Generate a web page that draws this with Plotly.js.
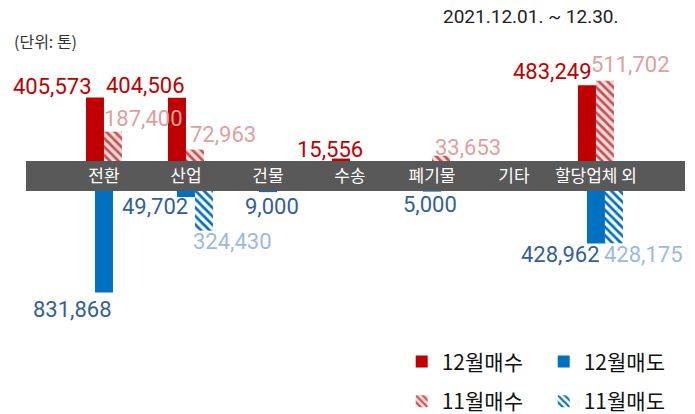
<!DOCTYPE html>
<html>
<head>
<meta charset="utf-8">
<script src="https://cdn.plot.ly/plotly-3.0.1.min.js"></script>
<style>html,body{margin:0;padding:0;background:#fff;}#chart{width:695px;height:414px;}</style>
</head>
<body>
<div id="chart"></div>
<script>
// ---- data ----
const categories = ['전환', '산업', '건물', '수송', '폐기물', '기타', '할당업체 외'];
const buyDec  = [405573, 404506, null, 15556, null, null, 483249];   // 12월매수
const buyNov  = [187400, 72963, null, null, 33653, null, 511702];    // 11월매수
const sellDec = [831868, 49702, 9000, null, 5000, null, 428962];     // 12월매도
const sellNov = [null, 324430, null, null, null, null, 428175];      // 11월매도
const seriesNames = ['12월매수', '12월매도', '11월매수', '11월매도'];
const dateText = '2021.12.01. ~ 12.30.';
const unitText = '(단위: 톤)';

// ---- label offsets (px) relative to bar end ----
const buyDecShift  = [[-51, 11], [-40, 12], null, [-20, 9], null, null, [-43, 14]];
const buyNovShift  = [[40, 13], [37, 15], null, null, [36, 8], null, [35, 16]];
const sellDecShift = [[-31, -17], [-31, -9], [4, -14], null, [-2, -13], null, [-35, -11]];
const sellNovShift = [null, [47, -11], null, null, null, null, [48, -11]];

const xi = categories.map((c, i) => i);
const W = 0.2195;
const RED = '#c00000', BLUE = '#0070c0';

const traces = [
  {type: 'bar', name: seriesNames[0], x: xi, y: buyDec, yaxis: 'y', width: W, offset: -W,
   marker: {color: RED, line: {width: 0}}, legend: 'legend', hoverinfo: 'skip'},
  {type: 'bar', name: seriesNames[1], x: xi, y: sellDec, yaxis: 'y2', width: W, offset: -W / 2,
   marker: {color: BLUE, line: {width: 0}}, legend: 'legend', hoverinfo: 'skip'},
  {type: 'bar', name: seriesNames[2], x: xi, y: buyNov, yaxis: 'y', width: W, offset: 0,
   marker: {color: '#ffffff', line: {width: 0},
            pattern: {shape: '\\', fgcolor: '#c9504f', bgcolor: '#f7dede', size: 6, solidity: 0.45}},
   legend: 'legend2', hoverinfo: 'skip'},
  {type: 'bar', name: seriesNames[3], x: xi, y: sellNov, yaxis: 'y2', width: W, offset: W / 2,
   marker: {color: '#ffffff', line: {width: 0},
            pattern: {shape: '\\', fgcolor: BLUE, bgcolor: '#ffffff', size: 6, solidity: 0.45}},
   legend: 'legend2', hoverinfo: 'skip'}
];

const fmt = v => v.toLocaleString('en-US');
const annotations = [];
function addLabels(vals, shifts, yref, color) {
  vals.forEach((v, i) => {
    if (v == null || !shifts[i]) return;
    annotations.push({x: i, y: v, xref: 'x', yref: yref, text: fmt(v), showarrow: false,
      xanchor: 'center', yanchor: 'middle', xshift: shifts[i][0], yshift: shifts[i][1],
      font: {family: 'Roboto', size: 22, color: color}});
  });
}
addLabels(buyDec, buyDecShift, 'y', RED);
addLabels(buyNov, buyNovShift, 'y', '#e0a0a0');
addLabels(sellDec, sellDecShift, 'y2', '#335f98');
addLabels(sellNov, sellNovShift, 'y2', '#9db9df');

annotations.push({xref: 'paper', yref: 'paper', x: 0.7663, y: 1.1536, text: dateText, showarrow: false,
  xanchor: 'center', yanchor: 'middle', font: {family: 'Roboto', size: 19, color: '#222'}});
annotations.push({xref: 'paper', yref: 'paper', x: -0.0212, y: 1.0679, text: unitText, showarrow: false,
  xanchor: 'left', yanchor: 'middle', font: {family: 'Noto Sans CJK KR', size: 16, color: '#333'}});

const legendBase = {orientation: 'h', xref: 'container', yref: 'container', x: 0.578,
  xanchor: 'left', yanchor: 'middle', entrywidth: 97, itemwidth: 30, traceorder: 'normal',
  font: {family: 'Noto Sans CJK KR', size: 21, color: '#111'}, bgcolor: 'rgba(0,0,0,0)'};

const layout = {
  width: 695, height: 414,
  margin: {l: 26, r: 10, t: 60, b: 74, pad: 0},
  paper_bgcolor: '#ffffff', plot_bgcolor: 'rgba(0,0,0,0)',
  barmode: 'overlay',
  showlegend: true,
  xaxis: {range: [-0.951, 7.086], anchor: 'y2', side: 'top', tickmode: 'array', tickvals: xi,
          ticktext: categories, ticks: '', showgrid: false, zeroline: false, showline: false,
          ticklabelstandoff: 5,
          tickfont: {family: 'Noto Sans CJK KR', size: 17, color: '#ffffff'}},
  yaxis: {domain: [0.6393, 1], range: [0, 645000], visible: false, fixedrange: true},
  yaxis2: {domain: [0, 0.5321], range: [1220000, 0], visible: false, fixedrange: true},
  shapes: [{type: 'rect', xref: 'paper', yref: 'paper', x0: 0, x1: 1, y0: 0.5321, y1: 0.6393,
            fillcolor: '#595959', line: {width: 0}, layer: 'below'}],
  annotations: annotations,
  legend: Object.assign({}, legendBase, {y: 0.126}),
  legend2: Object.assign({}, legendBase, {y: 0.030})
};

Plotly.newPlot('chart', traces, layout, {staticPlot: true, displayModeBar: false});
</script>
</body>
</html>
